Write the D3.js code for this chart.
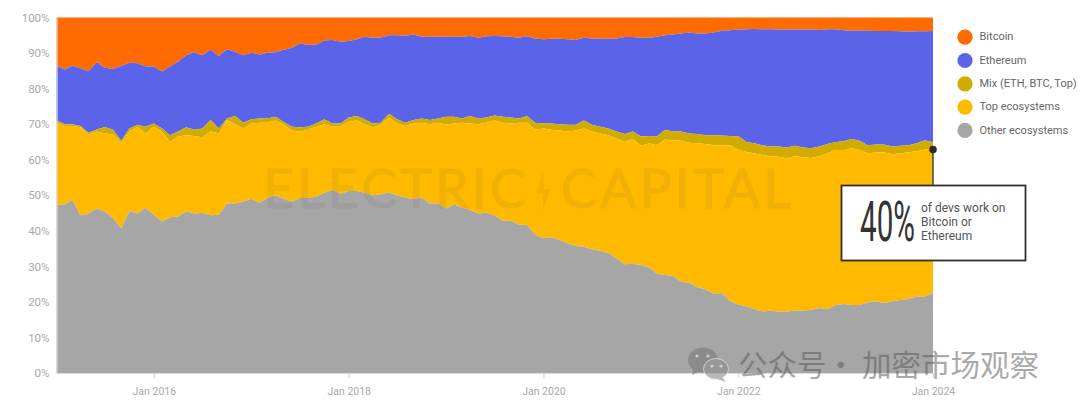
<!DOCTYPE html>
<html><head><meta charset="utf-8">
<script src="https://cdn.jsdelivr.net/npm/d3@7/dist/d3.min.js"></script>
<style>html,body{margin:0;padding:0;background:#fff;overflow:hidden}svg{display:block}text{font-family:Roboto,"Noto Sans",sans-serif}</style>
</head><body><svg id="c" width="1080" height="409"></svg>
<script>
// Cumulative upper edge of each stacked band, in percent, one value per month Jan 2015 - Jan 2024
const otherEdge=[47.3,47.4,48.7,44.4,44.9,46.3,45.4,43.5,40.7,45.5,44.9,46.5,44.5,42.6,43.8,44,45.4,44.9,45,44.4,44.5,47.7,47.7,48.2,49,47.9,49.2,50,49,48.2,49.2,49.2,49.6,50.7,51.5,50.4,51.2,51.2,50.7,50,50.3,50.8,49.9,49.4,48.9,49.4,47.7,47.7,46.3,47.4,46.5,45.9,44.9,45.1,44.4,42.8,42.8,41.8,41.6,38.8,37.9,38.2,37.4,36.5,35.7,35.5,34.8,34.4,33.7,32.3,30.6,30.7,30.4,29.7,28,27.6,27.3,25.7,25.4,24.1,23.5,22.2,22.6,20.2,19.3,18.7,18,17.3,17.5,17.3,17.2,17.6,17.6,17.7,18.3,17.9,19.1,19.4,19.1,19.1,19.8,20.2,19.6,20.2,20.5,20.8,21.5,21.5,22.6];
const topEdge=[70.4,69.5,69.5,69.1,67.1,67.9,67.4,67.1,64.8,67.9,69.3,67.4,69.3,67.9,65,66.5,66.9,66.7,66.3,68,67.4,71.2,70,68.8,70.2,70.4,70.4,71,70,68.2,67.9,68.4,69.3,70,69.3,69.5,70.7,71,70,69.1,69.8,71.9,70.2,69.5,70.2,70.4,70,70.4,69.9,70.2,70.4,70.2,70,70.4,71,70.4,70.2,70.4,70.4,68.5,68.8,68.4,68.2,67.9,68.2,68.8,67.9,67.4,66.9,66,65,65.8,63.9,64.6,64.1,65.7,65.5,65.3,64.8,64.6,64.4,64.1,64.1,64.1,62.9,62.2,61.8,61.3,61,60.8,60.4,61,60.7,60.5,61,61.8,62.7,62.7,63.2,62.7,61.8,62,62.1,61.5,61.8,62.1,62.4,62.9,63.2];
const mixEdge=[71,70,70,69.5,67.6,68.5,69.2,68.4,65.3,68.8,69.8,69.3,70.2,68.8,66.9,67.9,69.1,68.4,68.8,71.2,68.8,71.6,72.3,70.4,71.4,71.6,71.6,72.1,70.7,69.3,69.1,69.3,70.2,71.4,70.2,70.2,71.9,72.3,71.4,70.2,70.4,72.9,71.4,70.4,71.2,71.6,71.2,71.6,72.1,72.1,71.6,72.3,71.6,71.9,72.4,72.1,71.9,71.6,72.3,70.4,70.2,70.2,70,69.8,69.8,71,69.8,69.3,68.8,67.9,67.2,67.9,66.5,66.7,66.5,68.4,67.9,67.9,67.4,67.2,66.9,66.9,66.8,66.7,66.6,65,64.6,64.1,63.7,63.7,63.4,63.9,63.4,63.2,63.7,64.4,65,65.2,65.8,65.3,64.1,64.3,64.3,63.7,63.9,64.1,64.6,65.5,64.9];
const ethEdge=[86.4,85.4,86.4,85.7,84.9,87.4,85.9,85.5,86.4,87.3,87.1,86.2,86.2,84.8,86.2,87.6,89.4,90.2,89.4,90.9,89.2,91.1,90.4,89.4,90.1,89.6,90.1,90.2,90.9,91.4,92.7,92.3,92.3,93.5,93.7,93.2,93.4,93.9,94.6,94.3,94.4,95,95,94.9,95.2,94.6,94.6,94.6,94.6,94.6,94.6,94.8,94.3,94.7,94.8,94.7,94.6,94.3,94.7,94.1,93.9,94,94,93.9,93.7,94.3,94.1,94,94,94.1,94.5,94.5,94.3,94.3,94.6,95,95.2,95.5,95.8,95.5,95.5,95.8,96.3,96.4,96.6,96.7,96.8,96.7,96.7,96.6,96.6,96.6,96.6,96.6,96.5,96.7,96.7,96.4,96.3,96.3,96.3,96.2,96.2,96.2,96.1,96,96.1,96.1,96.2];
const legendLabels=["Bitcoin","Ethereum","Mix (ETH, BTC, Top)","Top ecosystems","Other ecosystems"];
const colors=["#FF6B00","#5B63E8","#D0AC00","#FFBA00","#A6A6A6"];
const yTicks=[0,10,20,30,40,50,60,70,80,90,100];
const xTickYears=[2016,2018,2020,2022,2024];
const calloutValue="40%";
const calloutLines=["of devs work on","Bitcoin or","Ethereum"];
const watermarkParts=["公众号","·","加密市场观察"];

const svg=d3.select("#c");
const months=d3.utcMonth.range(new Date(Date.UTC(2015,0,1)),new Date(Date.UTC(2024,0,2)));
const x=d3.scaleUtc().domain([months[0],months[months.length-1]]).range([56.5,933]);
const y=d3.scaleLinear().domain([0,100]).range([373,17.5]);

const zeros=months.map(()=>0), hundreds=months.map(()=>100);
const bands=[[ethEdge,hundreds],[mixEdge,ethEdge],[topEdge,mixEdge],[otherEdge,topEdge],[zeros,otherEdge]];
const area=d3.area().x((d,i)=>x(months[i])).y0(d=>y(d[0])).y1(d=>y(d[1]));
svg.append("g").selectAll("path").data(bands).join("path")
  .attr("d",b=>area(months.map((m,i)=>[b[0][i],b[1][i]])))
  .attr("fill",(d,i)=>colors[i]);

// axes
const ax=svg.append("g").attr("transform","translate(56.5,0)")
  .call(d3.axisLeft(y).tickValues(yTicks).tickFormat(d=>d+"%").tickSize(0).tickPadding(7));
const bx=svg.append("g").attr("transform","translate(0,373)")
  .call(d3.axisBottom(x).tickValues(xTickYears.map(v=>new Date(Date.UTC(v,0,1)))).tickFormat(d3.utcFormat("Jan %Y")).tickSize(5).tickSizeOuter(0).tickPadding(10));
[ax,bx].forEach(g=>{
  g.selectAll(".domain").attr("stroke","#dcdcdc").attr("stroke-width",1.2);
  g.selectAll(".tick line").attr("stroke","#cfcfcf");
  g.selectAll("text").attr("fill","#a9a9a9").style("font-family","Roboto,sans-serif");
});
ax.selectAll("text").attr("font-size",11.5);
bx.selectAll("text").attr("font-size",10.5);

// ELECTRIC CAPITAL watermark
const wm=svg.append("g").attr("fill","#404040").attr("stroke","#404040").attr("stroke-width",1.1).attr("opacity",0.07);
wm.append("text").attr("x",263).attr("y",208).attr("font-size",54).attr("textLength",263).attr("lengthAdjust","spacing").style("font-family","Lato,sans-serif").text("ELECTRIC");
wm.append("text").attr("x",561).attr("y",208).attr("font-size",54).attr("textLength",230).attr("lengthAdjust","spacing").style("font-family","Lato,sans-serif").text("CAPITAL");
wm.append("path").attr("d","M543,172 L536,194 L543,194 L543,211 L550,189 L544,189 Z").attr("stroke","none");

// callout
svg.append("line").attr("x1",933).attr("x2",933).attr("y1",y(63.2)).attr("y2",186).attr("stroke","#3a3a3a").attr("stroke-width",1.4);
svg.append("circle").attr("cx",933).attr("cy",149.5).attr("r",3.8).attr("fill","#2b2b2b");
svg.append("rect").attr("x",841.5).attr("y",185.5).attr("width",184).attr("height",75).attr("fill","#fff").attr("stroke","#2f2f2f").attr("stroke-width",1.8);
const big=svg.append("text").attr("font-size",55).attr("fill","#333").text(calloutValue);
big.attr("transform",`translate(860,240.5) scale(${55/big.node().getComputedTextLength()},1)`);
svg.append("g").selectAll("text").data(calloutLines).join("text")
  .attr("x",921).attr("y",(d,i)=>212+i*14).attr("font-size",12).attr("fill","#555").text(d=>d);

// legend
const lg=svg.append("g").selectAll("g").data(legendLabels).join("g")
  .attr("transform",(d,i)=>`translate(965,${37.2+i*23.3})`);
lg.append("circle").attr("r",7.6).attr("fill",(d,i)=>colors[i]);
lg.append("text").attr("x",14.5).attr("y",3.2).attr("font-size",11).attr("fill","#666").text(d=>d);

// WeChat overlay
const wc=svg.append("g").attr("opacity",0.62);
wc.append("ellipse").attr("cx",703).attr("cy",360).attr("rx",15).attr("ry",12.5).attr("fill","#7c7c7c");
wc.append("path").attr("d","M693,368 L692,375 L700,371 Z").attr("fill","#7c7c7c");
wc.append("ellipse").attr("cx",716).attr("cy",369).attr("rx",12.5).attr("ry",10.5).attr("fill","#8e8e8e").attr("stroke","#fff").attr("stroke-width",0.8);
wc.append("path").attr("d","M722,377 L726,382 L717,379 Z").attr("fill","#8e8e8e");
[[697,356],[708,356],[712,366],[721,366]].forEach(p=>wc.append("circle").attr("cx",p[0]).attr("cy",p[1]).attr("r",1.6).attr("fill","#e8e8e8"));
const wt=svg.append("text").attr("y",375.5).attr("font-size",29.5).attr("fill","#555").attr("opacity",0.5)
  .style("font-family",'"Noto Sans CJK SC",sans-serif');
wt.selectAll("tspan").data(watermarkParts).join("tspan").attr("x",(d,i)=>[738,826,862][i]).text(d=>d);
</script></body></html>
